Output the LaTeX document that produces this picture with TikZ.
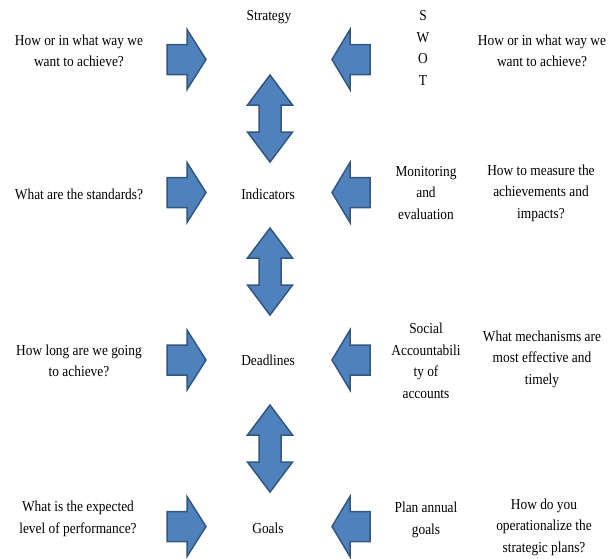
\documentclass[tikz,border=0pt]{standalone}
\usepackage{fontspec}
\setmainfont[FakeStretch=0.88]{Liberation Serif}
\definecolor{arrfill}{HTML}{4F81BD}
\definecolor{arrdraw}{HTML}{34577F}
\begin{document}
\begin{tikzpicture}[x=1pt,y=-1pt,
  lbl/.style={align=center, font=\fontsize{15.2}{21.5}\selectfont, inner sep=0pt},
  blockarrow/.style={fill=arrfill, draw=arrdraw, line width=1.5pt, line join=miter},
  pics/rarr/.style={code={\path[blockarrow] (0,0) -- (-19,-30) -- (-19,-15) -- (-39,-15) -- (-39,15) -- (-19,15) -- (-19,30) -- cycle;}},
  pics/larr/.style={code={\path[blockarrow] (0,0) -- (18,-30) -- (18,-15) -- (38,-15) -- (38,15) -- (18,15) -- (18,30) -- cycle;}},
  pics/udarr/.style={code={\path[blockarrow] (0,0) -- (22.5,30) -- (11,30) -- (11,57) -- (22.5,57) -- (0,87) -- (-22.5,57) -- (-11,57) -- (-11,30) -- (-22.5,30) -- cycle;}}
]
\useasboundingbox (0,0) rectangle (615,558);

% row 1
\node[lbl] (strategy) at (269,17) {Strategy};
\node[lbl] (swot) at (423,48) {S\\W\\O\\T};
\node[lbl] (lq1) at (79,51) {How or in what way we\\want to achieve?};
\node[lbl] (rq1) at (542,51) {How or in what way we\\want to achieve?};
\pic at (206,59.5) {rarr};
\pic at (332,59.5) {larr};
\pic at (270,75) {udarr};

% row 2
\node[lbl] (lq2) at (79,194) {What are the standards?};
\node[lbl] (ind) at (268,194) {Indicators};
\node[lbl] (mon) at (426,193) {Monitoring\\and\\evaluation};
\node[lbl] (rq2) at (541,193) {How to measure the\\achievements and\\impacts?};
\pic at (206,192.5) {rarr};
\pic at (332,192.5) {larr};
\pic at (270,228) {udarr};

% row 3
\node[lbl] (lq3) at (79,361) {How long are we going\\to achieve?};
\node[lbl] (dead) at (268,360) {Deadlines};
\node[lbl] (soc) at (426,361) {Social\\Accountabili\\ty of\\accounts};
\node[lbl] (rq3) at (542,359) {What mechanisms are\\most effective and\\timely};
\pic at (206,360) {rarr};
\pic at (332,360) {larr};
\pic at (270,405) {udarr};

% row 4
\node[lbl] (lq4) at (78,519) {What is the expected\\level of performance?};
\node[lbl] (goals) at (268,528) {Goals};
\node[lbl] (plan) at (426,520) {Plan annual\\goals};
\node[lbl] (rq4) at (544,527) {How do you\\operationalize the\\strategic plans?};
\pic at (206,526.5) {rarr};
\pic at (332,526.5) {larr};
\end{tikzpicture}
\end{document}
